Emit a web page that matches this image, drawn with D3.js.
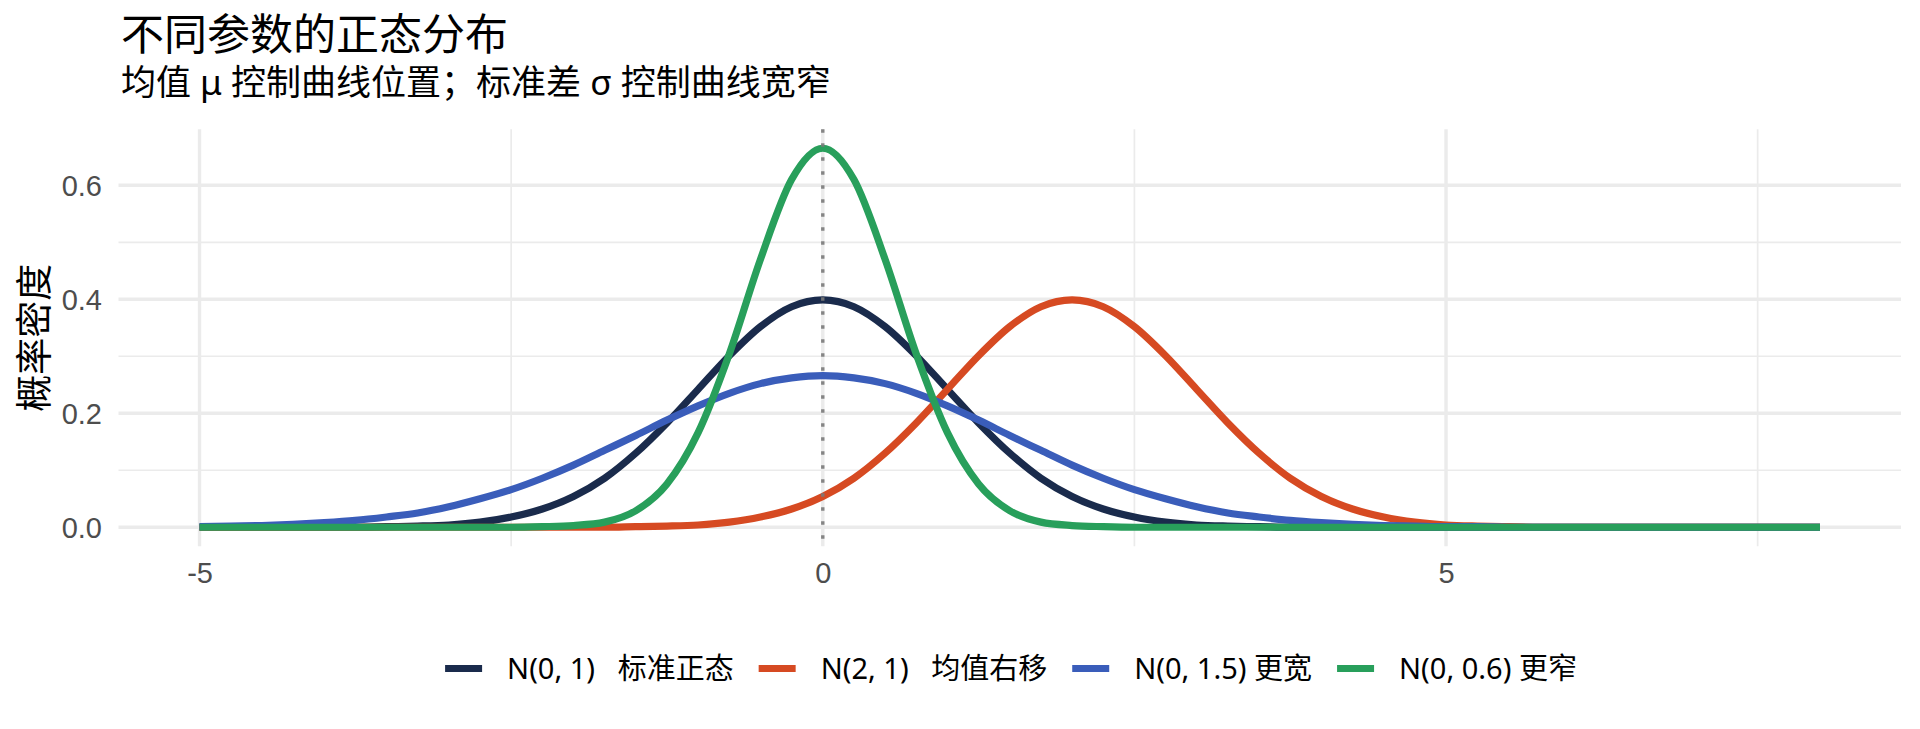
<!DOCTYPE html>
<html>
<head>
<meta charset="utf-8">
<script src="https://cdn.jsdelivr.net/npm/d3@7"></script>
<style>
  html, body { margin: 0; padding: 0; background: #ffffff; }
  svg { display: block; }
  text { white-space: pre; }
</style>
</head>
<body>
<svg id="chart" width="1920" height="729"></svg>
<script>
// ---------------- data ----------------
const xValues = d3.range(0, 53).map(i => -5 + i * 0.25); // x grid -5 .. 8 step 0.25

const seriesNames = ["N(0, 1)   标准正态", "N(2, 1)   均值右移", "N(0, 1.5) 更宽", "N(0, 0.6) 更窄"];
const seriesColors = ["#1a2b4c", "#d64a22", "#3a5dba", "#289f5b"];

const densStandard = [
  0, 0, 0, 0, 0, 0, 0.001, 0.002, 0.004, 0.009, 0.018, 0.032, 0.054, 0.086, 0.130, 0.183,
  0.242, 0.301, 0.352, 0.387, 0.399, 0.387, 0.352, 0.301, 0.242, 0.183, 0.130, 0.086, 0.054,
  0.032, 0.018, 0.009, 0.004, 0.002, 0.001,
  0, 0, 0, 0, 0, 0, 0, 0, 0, 0, 0, 0, 0, 0, 0, 0, 0, 0
];
const densShifted = [
  0, 0, 0, 0, 0, 0, 0, 0, 0, 0, 0, 0, 0, 0,
  0.001, 0.002, 0.004, 0.009, 0.018, 0.032, 0.054, 0.086, 0.130, 0.183, 0.242, 0.301, 0.352,
  0.387, 0.399, 0.387, 0.352, 0.301, 0.242, 0.183, 0.130, 0.086, 0.054, 0.032, 0.018, 0.009,
  0.004, 0.002, 0.001,
  0, 0, 0, 0, 0, 0, 0, 0, 0, 0
];
const densWide = [
  0.001, 0.002, 0.003, 0.005, 0.008, 0.012, 0.018, 0.025, 0.036, 0.050, 0.066, 0.086, 0.109,
  0.135, 0.161, 0.188, 0.213, 0.235, 0.252, 0.262, 0.266, 0.262, 0.252, 0.235, 0.213, 0.188,
  0.161, 0.135, 0.109, 0.086, 0.066, 0.050, 0.036, 0.025, 0.018, 0.012, 0.008, 0.005, 0.003,
  0.002, 0.001, 0.001, 0, 0, 0, 0, 0, 0, 0, 0, 0, 0, 0
];
const densNarrow = [
  0, 0, 0, 0, 0, 0, 0, 0, 0, 0, 0,
  0.001, 0.003, 0.009, 0.029, 0.076, 0.166, 0.304, 0.470, 0.610,
  0.665,
  0.610, 0.470, 0.304, 0.166, 0.076, 0.029, 0.009, 0.003, 0.001,
  0, 0, 0, 0, 0, 0, 0, 0, 0, 0, 0, 0, 0, 0, 0, 0, 0, 0, 0, 0, 0, 0, 0
];
const seriesValues = [densStandard, densShifted, densWide, densNarrow];

const xTicks = [-5, 0, 5];
const xMinorTicks = [-2.5, 2.5, 7.5];
const yTicks = [0, 0.2, 0.4, 0.6];
const yMinorTicks = [0.1, 0.3, 0.5];
const xTickLabels = ["-5", "0", "5"];
const yTickLabels = ["0.0", "0.2", "0.4", "0.6"];
const refLineX = [0];

const titleText = "不同参数的正态分布";
const subtitleText = "均值 μ 控制曲线位置；标准差 σ 控制曲线宽窄";
const yAxisTitle = "概率密度";

// ---------------- layout ----------------
const svg = d3.select("#chart");
const panel = { left: 118.5, right: 1901, top: 129.3, bottom: 546.2 };
const cjk = "'Noto Sans CJK SC', 'Noto Sans', sans-serif";
const latin = "'Noto Sans', 'Noto Sans CJK SC', sans-serif";
const tickFont = "'Liberation Sans', Arial, sans-serif";

const xExt = d3.extent(xValues);
const xPad = (xExt[1] - xExt[0]) * 0.05;
const x = d3.scaleLinear().domain([xExt[0] - xPad, xExt[1] + xPad]).range([panel.left, panel.right]);
const yMax = d3.max(seriesValues, s => d3.max(s));
const yPad = yMax * 0.05;
const y = d3.scaleLinear().domain([0 - yPad, yMax + yPad]).range([panel.bottom, panel.top]);

// grid
const grid = svg.append("g");
grid.selectAll(".ymin").data(yMinorTicks).join("line")
  .attr("x1", panel.left).attr("x2", panel.right)
  .attr("y1", d => y(d)).attr("y2", d => y(d))
  .attr("stroke", "#ebebeb").attr("stroke-width", 1.7);
grid.selectAll(".xmin").data(xMinorTicks).join("line")
  .attr("y1", panel.top).attr("y2", panel.bottom)
  .attr("x1", d => x(d)).attr("x2", d => x(d))
  .attr("stroke", "#ebebeb").attr("stroke-width", 1.7);
grid.selectAll(".ymaj").data(yTicks).join("line")
  .attr("x1", panel.left).attr("x2", panel.right)
  .attr("y1", d => y(d)).attr("y2", d => y(d))
  .attr("stroke", "#ebebeb").attr("stroke-width", 3.4);
grid.selectAll(".xmaj").data(xTicks).join("line")
  .attr("y1", panel.top).attr("y2", panel.bottom)
  .attr("x1", d => x(d)).attr("x2", d => x(d))
  .attr("stroke", "#ebebeb").attr("stroke-width", 3.4);

// axes via d3 axis generators (styled like ggplot theme_minimal)
const xAxis = d3.axisBottom(x).tickValues(xTicks).tickFormat((d, i) => xTickLabels[i]).tickSize(0).tickPadding(0);
const gx = svg.append("g").attr("transform", `translate(0, 583.3)`).call(xAxis);
gx.select(".domain").remove();
gx.selectAll("text").attr("dy", null).attr("y", 0)
  .attr("font-family", tickFont).attr("font-size", 29).attr("fill", "#4d4d4d");

const yAxis = d3.axisLeft(y).tickValues(yTicks).tickFormat((d, i) => yTickLabels[i]).tickSize(0).tickPadding(0);
const gy = svg.append("g").attr("transform", `translate(102, 0)`).call(yAxis);
gy.select(".domain").remove();
gy.selectAll("text").attr("dy", "0.36em").attr("x", 0)
  .attr("font-family", tickFont).attr("font-size", 29).attr("fill", "#4d4d4d");

// curves
const line = d3.line()
  .x((d, i) => x(xValues[i]))
  .y(d => y(d))
  .curve(d3.curveMonotoneX);
svg.append("g").selectAll("path").data(seriesValues).join("path")
  .attr("d", d => line(d))
  .attr("fill", "none")
  .attr("stroke", (d, i) => seriesColors[i])
  .attr("stroke-width", 7.2)
  .attr("stroke-linejoin", "round");

// reference dotted line at mean 0
svg.append("g").selectAll("line").data(refLineX).join("line")
  .attr("x1", d => x(d)).attr("x2", d => x(d))
  .attr("y1", panel.top).attr("y2", panel.bottom)
  .attr("stroke", "#7a7a7a").attr("stroke-opacity", 0.9)
  .attr("stroke-width", 3.4).attr("stroke-dasharray", "3.4 10.6");

// titles
svg.append("text").attr("x", 121).attr("y", 50)
  .attr("font-family", cjk).attr("font-size", 43).attr("fill", "#000")
  .text(titleText);
svg.append("text").attr("x", 121).attr("y", 95)
  .attr("font-family", latin).attr("font-size", 35).attr("fill", "#000")
  .text(subtitleText);
svg.append("text")
  .attr("transform", `translate(31.5, ${(panel.top + panel.bottom) / 2}) rotate(-90)`)
  .attr("text-anchor", "middle").attr("dominant-baseline", "central")
  .attr("font-family", cjk).attr("font-size", 37).attr("fill", "#000")
  .text(yAxisTitle);

// legend
const legend = svg.append("g");
const keyW = 37, keyGap = 25, itemGap = 25;
const items = legend.selectAll("g").data(seriesNames).join("g");
items.append("line").attr("x1", 0).attr("x2", keyW).attr("y1", 668.5).attr("y2", 668.5)
  .attr("stroke", (d, i) => seriesColors[i]).attr("stroke-width", 7);
items.append("text").attr("x", keyW + keyGap).attr("y", 679)
  .attr("font-family", latin).attr("font-size", 29).attr("fill", "#000")
  .text(d => d);
let cursor = 0;
const offsets = [];
items.each(function () {
  offsets.push(cursor);
  const w = d3.select(this).select("text").node().getComputedTextLength();
  cursor += keyW + keyGap + w + itemGap;
});
const totalW = cursor - itemGap;
const legendStart = 1011 - totalW / 2;
items.attr("transform", (d, i) => `translate(${legendStart + offsets[i]}, 0)`);
</script>
</body>
</html>
